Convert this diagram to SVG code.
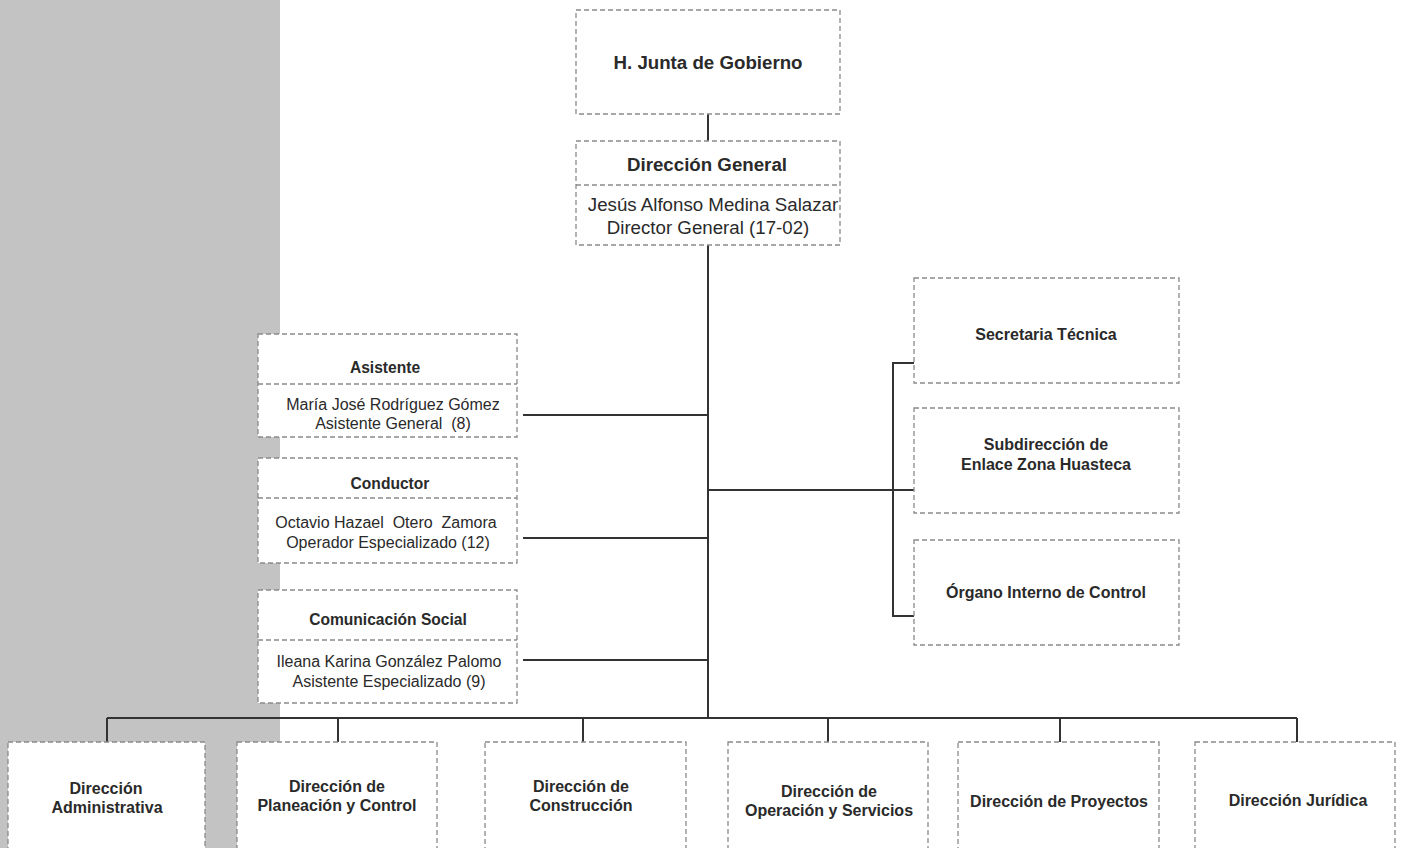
<svg xmlns="http://www.w3.org/2000/svg" width="1403" height="848" viewBox="0 0 1403 848">
<style>
.box{fill:#fff;stroke:#8a8a8a;stroke-width:1.3;stroke-dasharray:5 3}
.div{stroke:#8a8a8a;stroke-width:1.3;stroke-dasharray:5 3;fill:none}
.ln{stroke:#333;stroke-width:2;fill:none}
.t{font-family:"Liberation Sans",Arial,sans-serif;fill:#2a2a2a;text-anchor:middle;white-space:pre}
.b{font-weight:bold}
.top{font-size:18.7px}
.nm{font-size:16px}
.lb{font-size:16px;font-weight:bold}
</style>
<rect x="0" y="0" width="280" height="848" fill="#c3c3c3"/>
<g id="connectors">
<path class="ln" d="M708 114V141M708 245V718"/>
<path class="ln" d="M523 415H708M523 538H708M523 660H708"/>
<path class="ln" d="M708 490H914M914 363H893V616H914"/>
<path class="ln" d="M107 718H1297M107 718V742M338 718V742M583 718V742M828 718V742M1060 718V742M1297 718V742"/>
</g>
<g id="junta">
<rect class="box" x="576" y="10" width="264" height="104"/>
<text class="t b top" x="708" y="69">H. Junta de Gobierno</text>
</g>
<g id="direccion-general">
<rect class="box" x="576" y="141" width="264" height="104"/>
<path class="div" d="M576 185H840"/>
<text class="t b top" x="707" y="171">Dirección General</text>
<text class="t top" x="713" y="211">Jesús Alfonso Medina Salazar</text>
<text class="t top" x="708" y="234">Director General (17-02)</text>
</g>
<g id="asistente">
<rect class="box" x="258" y="334" width="259" height="103"/>
<path class="div" d="M258 384H517"/>
<text class="t b" x="385" y="373" font-size="15.6">Asistente</text>
<text class="t nm" x="393" y="410">María José Rodríguez Gómez</text>
<text class="t nm" x="393" y="429">Asistente General  (8)</text>
</g>
<g id="conductor">
<rect class="box" x="258" y="458" width="259" height="105"/>
<path class="div" d="M258 498H517"/>
<text class="t b" x="390" y="489" font-size="15.6">Conductor</text>
<text class="t nm" x="386" y="528">Octavio Hazael  Otero  Zamora</text>
<text class="t nm" x="388" y="548">Operador Especializado (12)</text>
</g>
<g id="comunicacion">
<rect class="box" x="258" y="590" width="259" height="113"/>
<path class="div" d="M258 640H517"/>
<text class="t b" x="388" y="625" font-size="15.6">Comunicación Social</text>
<text class="t nm" x="389" y="667">Ileana Karina González Palomo</text>
<text class="t nm" x="389" y="687">Asistente Especializado (9)</text>
</g>
<g id="secretaria">
<rect class="box" x="914" y="278" width="265" height="105"/>
<text class="t lb" x="1046" y="340">Secretaria Técnica</text>
</g>
<g id="subdireccion">
<rect class="box" x="914" y="408" width="265" height="105"/>
<text class="t lb" x="1046" y="450">Subdirección de</text>
<text class="t lb" x="1046" y="470">Enlace Zona Huasteca</text>
</g>
<g id="organo">
<rect class="box" x="914" y="540" width="265" height="105"/>
<text class="t lb" x="1046" y="598">Órgano Interno de Control</text>
</g>
<g id="administrativa">
<rect class="box" x="8" y="742" width="197" height="110"/>
<text class="t lb" x="106" y="794">Dirección</text>
<text class="t lb" x="107" y="813">Administrativa</text>
</g>
<g id="planeacion">
<rect class="box" x="237" y="742" width="200" height="110"/>
<text class="t lb" x="337" y="792">Dirección de</text>
<text class="t lb" x="337" y="811">Planeación y Control</text>
</g>
<g id="construccion">
<rect class="box" x="485" y="742" width="201" height="110"/>
<text class="t lb" x="581" y="792">Dirección de</text>
<text class="t lb" x="581" y="811">Construcción</text>
</g>
<g id="operacion">
<rect class="box" x="728" y="742" width="200" height="110"/>
<text class="t lb" x="829" y="797">Dirección de</text>
<text class="t lb" x="829" y="816">Operación y Servicios</text>
</g>
<g id="proyectos">
<rect class="box" x="958" y="742" width="201" height="110"/>
<text class="t lb" x="1059" y="807">Dirección de Proyectos</text>
</g>
<g id="juridica">
<rect class="box" x="1195" y="742" width="200" height="110"/>
<text class="t lb" x="1298" y="806">Dirección Jurídica</text>
</g>
</svg>
